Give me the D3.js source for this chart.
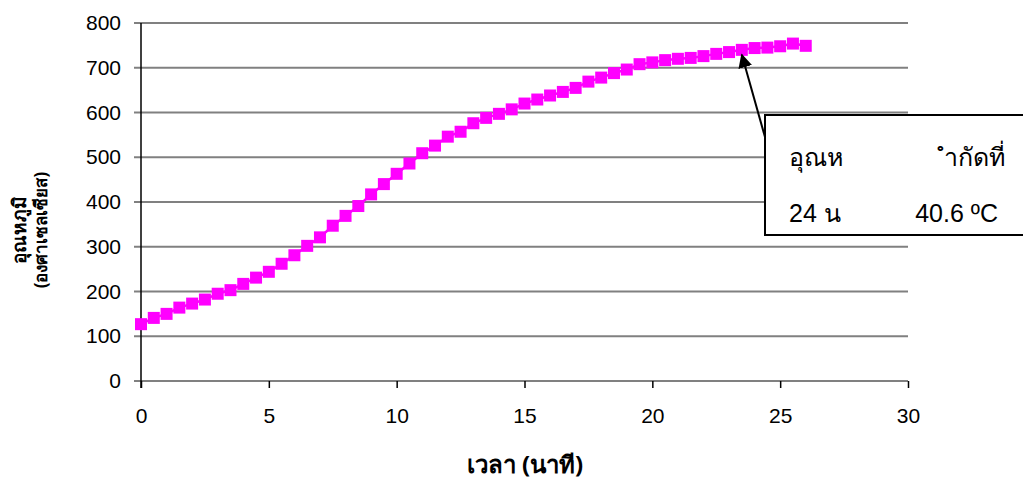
<!DOCTYPE html>
<html>
<head>
<meta charset="utf-8">
<script src="https://cdn.jsdelivr.net/npm/d3@7"></script>
<style>
  html, body { margin: 0; padding: 0; background: #fff; }
  svg { display: block; }
  text { font-family: "Liberation Sans", Arial, "Noto Sans", "DejaVu Sans", sans-serif; fill: #000; }
  .thai { font-family: Tahoma, "Noto Sans", "DejaVu Sans", "Liberation Sans", sans-serif; }
</style>
</head>
<body>
<svg id="chart" width="1023" height="479"></svg>
<script>
// Time in minutes (a reading every half minute)
const timeMin = [
  0, 0.5, 1, 1.5, 2, 2.5, 3, 3.5, 4, 4.5,
  5, 5.5, 6, 6.5, 7, 7.5, 8, 8.5, 9, 9.5,
  10, 10.5, 11, 11.5, 12, 12.5, 13, 13.5, 14, 14.5,
  15, 15.5, 16, 16.5, 17, 17.5, 18, 18.5, 19, 19.5,
  20, 20.5, 21, 21.5, 22, 22.5, 23, 23.5, 24, 24.5,
  25, 25.5, 26
];
// Temperature readings
const temperature = [
  127, 141, 150, 164, 173, 182, 195, 203, 217, 231,
  244, 262, 281, 302, 321, 347, 369, 391, 417, 440,
  463, 486, 509, 526, 546, 557, 576, 588, 597, 607,
  620, 629, 638, 646, 655, 669, 678, 688, 696, 708,
  712, 717, 720, 722, 726, 731, 735, 740, 744, 745,
  748, 754, 749
];
const xTicks = [0, 5, 10, 15, 20, 25, 30];
const yTicks = [0, 100, 200, 300, 400, 500, 600, 700, 800];

const xTitle = "เวลา (นาที)";
const yTitleLines = ["อุณหภูมิ", "(องศาเซลเซียส)"];
const noteLines = [["อุณห", "ำกัดที่"], ["24 น", "40.6 ºC"]];
const noteTarget = { x: 23.5, y: 740 };

const svg = d3.select("#chart");
const plot = { left: 141, right: 908, top: 23, bottom: 381 };

const x = d3.scaleLinear().domain([0, 30]).range([plot.left, plot.right]);
const y = d3.scaleLinear().domain([0, 800]).range([plot.bottom, plot.top]);

// Horizontal gridlines (with short tick stubs to the left of the axis)
svg.append("g")
  .selectAll("line")
  .data(yTicks)
  .join("line")
  .attr("x1", plot.left - 7).attr("x2", plot.right)
  .attr("y1", d => y(d)).attr("y2", d => y(d))
  .attr("stroke", "#808080").attr("stroke-width", 2);

// Y axis labels
const yAxis = d3.axisLeft(y).tickValues(yTicks).tickSize(0).tickPadding(20);
const gy = svg.append("g").attr("transform", `translate(${plot.left},0)`).call(yAxis);
gy.select(".domain").remove();
gy.selectAll("text").attr("font-size", 21).attr("font-family", null);

// X axis with downward ticks
const xAxis = d3.axisBottom(x).tickValues(xTicks).tickSize(7).tickPadding(20);
const gx = svg.append("g").attr("transform", `translate(0,${plot.bottom})`).call(xAxis);
gx.select(".domain").remove();
gx.selectAll("line").attr("stroke", "#000").attr("stroke-width", 1.5);
gx.selectAll("text").attr("font-size", 21).attr("font-family", null);

// Vertical axis line
svg.append("line")
  .attr("x1", plot.left).attr("x2", plot.left)
  .attr("y1", plot.top).attr("y2", plot.bottom + 7)
  .attr("stroke", "#000").attr("stroke-width", 1.5);

// Series line and square markers
const pts = timeMin.map((t, i) => ({ t, v: temperature[i] }));
svg.append("path")
  .datum(pts)
  .attr("fill", "none")
  .attr("stroke", "#FF00FF")
  .attr("stroke-width", 2.5)
  .attr("d", d3.line().x(d => x(d.t)).y(d => y(d.v)));

svg.append("g")
  .selectAll("rect")
  .data(pts)
  .join("rect")
  .attr("x", d => x(d.t) - 6).attr("y", d => y(d.v) - 6)
  .attr("width", 12).attr("height", 12)
  .attr("fill", "#FF00FF");

// Axis titles
svg.append("text")
  .attr("class", "thai")
  .attr("x", 525).attr("y", 473)
  .attr("text-anchor", "middle")
  .attr("font-size", 24).attr("font-weight", "bold")
  .text(xTitle);

const yTitle = svg.append("text")
  .attr("class", "thai")
  .attr("transform", "translate(0,230) rotate(-90)")
  .attr("text-anchor", "middle")
  .attr("font-weight", "bold");
yTitle.selectAll("tspan")
  .data(yTitleLines)
  .join("tspan")
  .attr("x", 0)
  .attr("y", (d, i) => 26 + i * 21)
  .attr("font-size", (d, i) => i === 0 ? 19 : 17)
  .text(d => d);

// Callout box with pointer
const box = { x: 765, y: 115, w: 270, h: 120 };
svg.append("defs").append("marker")
  .attr("id", "arrowhead")
  .attr("viewBox", "0 0 10 10")
  .attr("refX", 9).attr("refY", 5)
  .attr("markerWidth", 7).attr("markerHeight", 7)
  .attr("orient", "auto-start-reverse")
  .append("path").attr("d", "M0,0 L10,5 L0,10 z").attr("fill", "#000");

svg.append("line")
  .attr("x1", box.x).attr("y1", box.y + 22)
  .attr("x2", x(noteTarget.x)).attr("y2", y(noteTarget.y) + 5)
  .attr("stroke", "#000").attr("stroke-width", 2)
  .attr("marker-end", "url(#arrowhead)");

svg.append("rect")
  .attr("x", box.x).attr("y", box.y)
  .attr("width", box.w).attr("height", box.h)
  .attr("fill", "#fff").attr("stroke", "#000").attr("stroke-width", 2);

// Callout text: Latin set in the sans face, Thai falls back automatically
noteLines.forEach((row, i) => {
  const by = 166 + i * 56;
  svg.append("text")
    .attr("x", 789).attr("y", by)
    .attr("font-size", 25).text(row[0]);
  svg.append("text")
    .attr("x", 1005 - (i === 1 ? 7 : 0)).attr("y", by)
    .attr("text-anchor", "end")
    .attr("font-size", 25).text(row[1]);
});
</script>
</body>
</html>
